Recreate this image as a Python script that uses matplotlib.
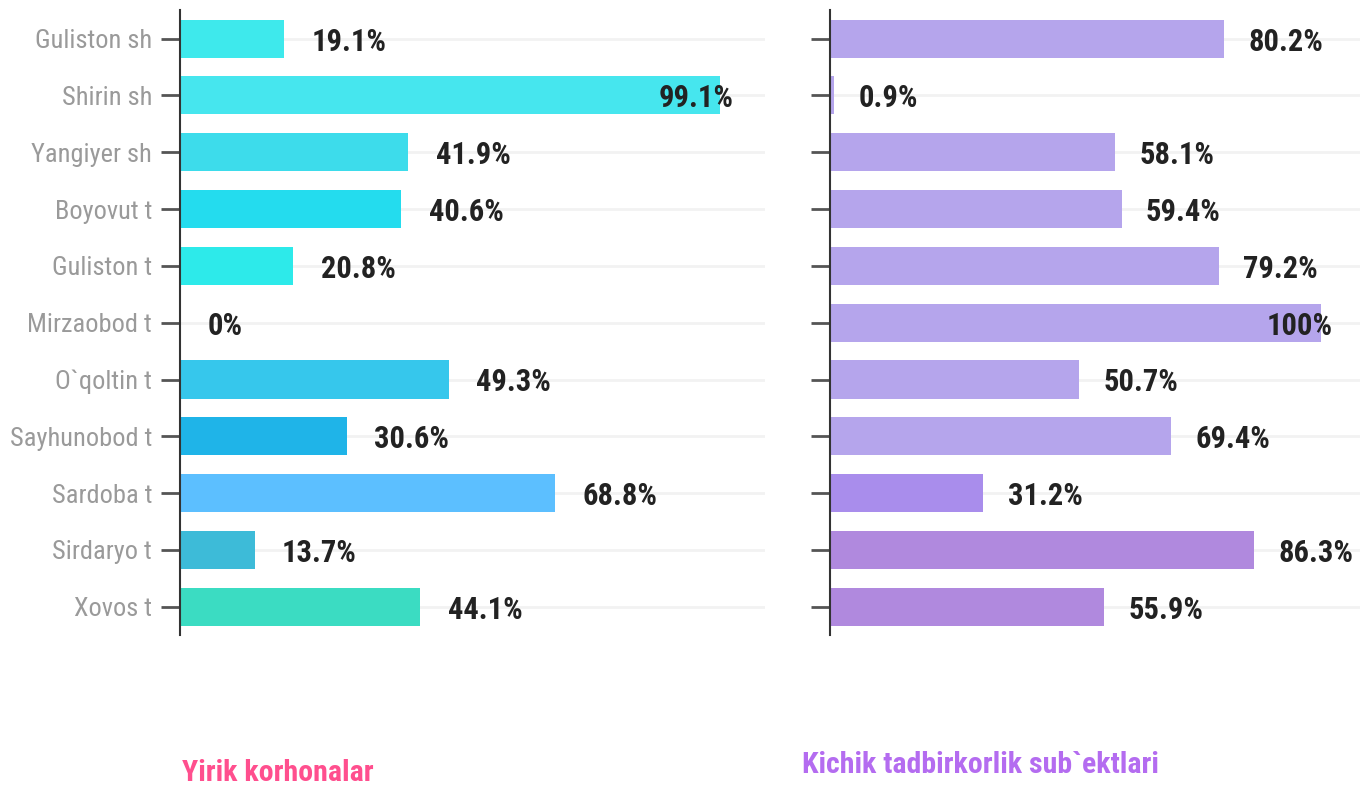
import matplotlib
matplotlib.use("Agg")
import matplotlib.pyplot as plt
from matplotlib import font_manager

# Donnees
districts = ["Guliston sh", "Shirin sh", "Yangiyer sh", "Boyovut t", "Guliston t",
             "Mirzaobod t", "O`qoltin t", "Sayhunobod t", "Sardoba t", "Sirdaryo t", "Xovos t"]
yirik = [19.1, 99.1, 41.9, 40.6, 20.8, 0, 49.3, 30.6, 68.8, 13.7, 44.1]
kichik = [80.2, 0.9, 58.1, 59.4, 79.2, 100, 50.7, 69.4, 31.2, 86.3, 55.9]
yirik_labels = ["19.1%", "99.1%", "41.9%", "40.6%", "20.8%", "0%", "49.3%", "30.6%", "68.8%", "13.7%", "44.1%"]
kichik_labels = ["80.2%", "0.9%", "58.1%", "59.4%", "79.2%", "100%", "50.7%", "69.4%", "31.2%", "86.3%", "55.9%"]
yirik_colors = ["#3EE9EC", "#46E6EE", "#3DDCEB", "#24DCEE", "#2DEAEA", "#2DEAEA",
                "#36C7EC", "#1FB4E8", "#5CBFFF", "#3DBBD8", "#3BDCC2"]
kichik_colors = ["#B5A5EC", "#B5A5EC", "#B5A5EC", "#B5A5EC", "#B5A5EC", "#B5A5EC",
                 "#B5A5EC", "#B5A5EC", "#A98DEC", "#B089DE", "#B089DE"]

# Police etroite si disponible
noms = {f.name for f in font_manager.fontManager.ttflist}
police = "Roboto"
for candidat in ["Roboto Condensed", "Barlow Condensed", "Fira Sans Condensed"]:
    if candidat in noms:
        police = candidat
        break
plt.rcParams['font.family'] = [police, 'DejaVu Sans']

fig = plt.figure(figsize=(13.65, 7.89), dpi=100)
ax1 = fig.add_axes([180 / 1365, 0.195, 585 / 1365, 0.792])
ax2 = fig.add_axes([830 / 1365, 0.195, 530 / 1365, 0.792])


def dessiner(ax, valeurs, etiquettes, couleurs, xmax, montrer_noms):
    y = list(range(len(districts)))
    ax.barh(y, valeurs, height=0.67, color=couleurs, zorder=2)
    ax.set_ylim(len(districts) - 0.5, -0.5)
    ax.set_xlim(0, xmax)
    ax.set_yticks(y)
    if montrer_noms:
        ax.set_yticklabels(districts, fontsize=19, color="#9a9a9a")
    else:
        ax.set_yticklabels([])
    ax.tick_params(axis="y", length=14, width=2, color="#555555", pad=6)
    ax.set_xticks([])
    for cote in ["top", "right", "bottom"]:
        ax.spines[cote].set_visible(False)
    ax.spines["left"].set_color("#333333")
    ax.spines["left"].set_linewidth(1.5)
    ax.grid(axis="y", color="#f2f2f2", linewidth=2, zorder=0)
    # Etiquettes de valeur
    for i, (v, txt) in enumerate(zip(valeurs, etiquettes)):
        if v > 95:
            ax.text(v + 2.5, i + 0.05, txt, ha="right", va="center", fontsize=22,
                    fontweight="bold", color="#222222", zorder=3)
        else:
            ax.text(v + 5, i + 0.05, txt, ha="left", va="center", fontsize=22,
                    fontweight="bold", color="#222222", zorder=3)


dessiner(ax1, yirik, yirik_labels, yirik_colors, 107.3, True)
dessiner(ax2, kichik, kichik_labels, kichik_colors, 108, False)

fig.text(182 / 1365, 0.02, "Yirik korhonalar", fontsize=21.5, fontweight="bold",
         color="#FF4F8E", ha="left", va="center")
fig.text(802 / 1365, 0.03, "Kichik tadbirkorlik sub`ektlari", fontsize=21.5, fontweight="bold",
         color="#B46CF0", ha="left", va="center")

fig.savefig("out.png", dpi=100, facecolor="white")
